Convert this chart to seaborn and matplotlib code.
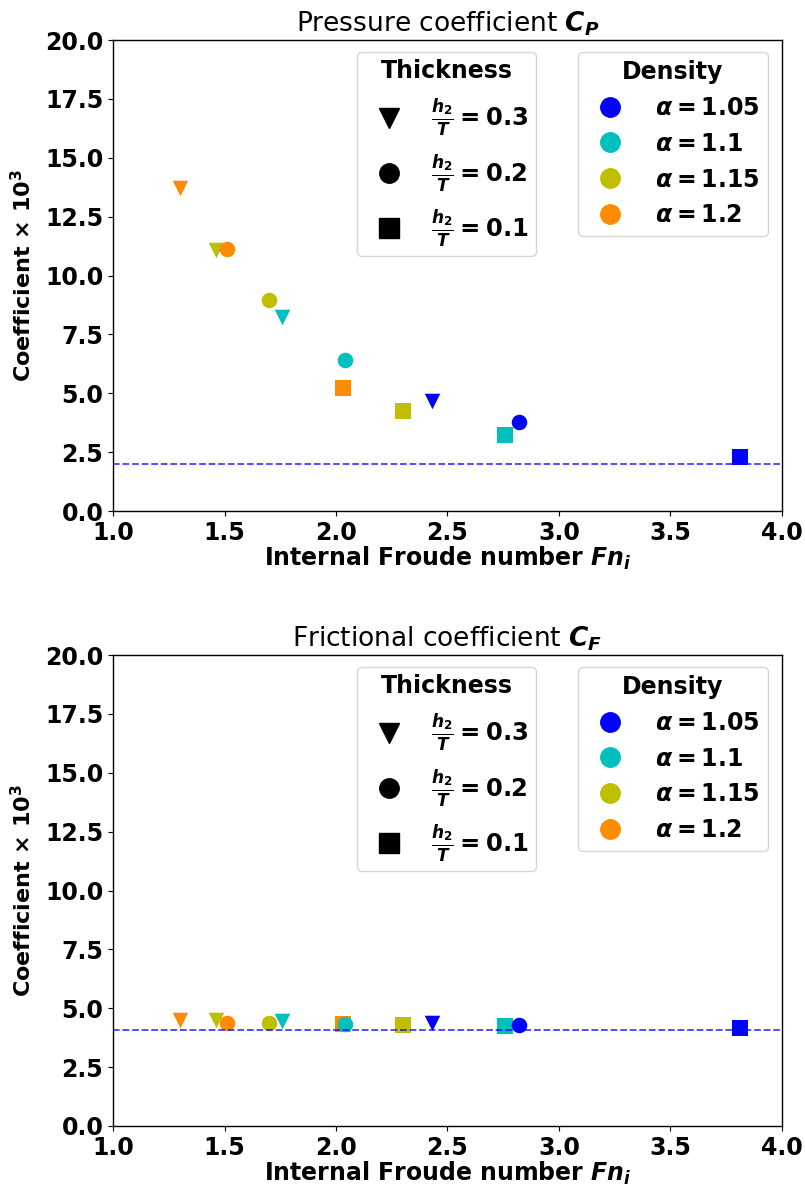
import numpy as np
import pandas as pd
import matplotlib
matplotlib.use("Agg")
import matplotlib.pyplot as plt
from matplotlib.lines import Line2D
import seaborn as sns

# ---- data ----
densities = ["1.05", "1.1", "1.15", "1.2"]
thicknesses = ["0.3", "0.2", "0.1"]
density_colors = ["#0000ff", "#00bfbf", "#bfbf00", "#ff8c00"]
thickness_markers = ["v", "o", "s"]

point_density = ["1.05", "1.05", "1.05", "1.1", "1.1", "1.1",
                 "1.15", "1.15", "1.15", "1.2", "1.2", "1.2"]
point_thickness = ["0.3", "0.2", "0.1"] * 4
froude = [2.43, 2.82, 3.81, 1.76, 2.04, 2.76, 1.46, 1.70, 2.30, 1.30, 1.51, 2.03]
cp = [4.66, 3.77, 2.29, 8.22, 6.40, 3.22, 11.10, 8.98, 4.24, 13.73, 11.14, 5.21]
cf = [4.39, 4.27, 4.15, 4.45, 4.34, 4.24, 4.48, 4.37, 4.27, 4.48, 4.36, 4.34]
cp_ref = 2.0
cf_ref = 4.08

xticks = [1.0, 1.5, 2.0, 2.5, 3.0, 3.5, 4.0]
yticks = [0.0, 2.5, 5.0, 7.5, 10.0, 12.5, 15.0, 17.5, 20.0]

df = pd.DataFrame({"Fn": froude, "Cp": cp, "Cf": cf,
                   "Density": point_density, "Thickness": point_thickness})
df = df.sort_values("Fn").reset_index(drop=True)

sns.set_style("ticks")
plt.rcParams.update({"text.color": "black", "axes.labelcolor": "black",
                     "xtick.color": "black", "ytick.color": "black",
                     "axes.edgecolor": "black",
                     "mathtext.fontset": "custom",
                     "mathtext.it": "DejaVu Sans:italic:bold",
                     "mathtext.rm": "DejaVu Sans:bold",
                     "mathtext.bf": "DejaVu Sans:bold",
                     "mathtext.sf": "DejaVu Sans:bold"})

fig = plt.figure(figsize=(8.05, 11.86), dpi=100)
ax1 = fig.add_axes([0.1404, 0.5691, 0.831, 0.3971])
ax2 = fig.add_axes([0.1404, 0.0506, 0.831, 0.3971])

palette = dict(zip(densities, density_colors))
markers = dict(zip(thicknesses, thickness_markers))

def draw(ax, col, ref, title):
    for _, row in df.iterrows():
        sns.scatterplot(x=[row["Fn"]], y=[row[col]], ax=ax,
                        color=palette[row["Density"]],
                        marker=markers[row["Thickness"]],
                        s=125, linewidth=0, legend=False)
    ax.axhline(ref, color="#0000ff", ls="--", lw=1.3, alpha=0.75, zorder=1)
    ax.set_xlim(1.0, 4.0)
    ax.set_ylim(0.0, 20.0)
    ax.set_xticks(xticks)
    ax.set_yticks(yticks)
    ax.set_xticklabels([f"{t:.1f}" for t in xticks], fontsize=17, fontweight="bold")
    ax.set_yticklabels([f"{t:.1f}" for t in yticks], fontsize=17, fontweight="bold")
    ax.set_xlabel(r"Internal Froude number $Fn_i$", fontsize=17,
                  fontweight="bold", labelpad=0)
    ax.set_ylabel("Coefficient \u00d7 $10^3$", fontsize=16,
                  fontweight="bold", labelpad=7)
    ax.set_title(title, fontsize=19, pad=6)
    for sp in ax.spines.values():
        sp.set_linewidth(1.0)

    th_handles = [Line2D([], [], ls="", marker=m, color="black", markersize=14)
                  for m in thickness_markers]
    th_labels = [r"$\frac{h_2}{T}=%s$" % t for t in thicknesses]
    leg1 = ax.legend(th_handles, th_labels, title="Thickness", loc="upper left",
                     bbox_to_anchor=(0.3647, 0.975), fontsize=17.5,
                     title_fontproperties={"weight": "bold", "size": 17},
                     labelspacing=0.55, handletextpad=0.75, borderpad=0.3,
                     borderaxespad=0, frameon=True)
    ax.add_artist(leg1)
    de_handles = [Line2D([], [], ls="", marker="o", color=c, markersize=14)
                  for c in density_colors]
    de_labels = [r"$\alpha=%s$" % d for d in densities]
    ax.legend(de_handles, de_labels, title="Density", loc="upper left",
              bbox_to_anchor=(0.695, 0.975), fontsize=17,
              title_fontproperties={"weight": "bold", "size": 17},
              labelspacing=0.5, handletextpad=0.9, borderpad=0.35,
              borderaxespad=0, frameon=True)

draw(ax1, "Cp", cp_ref, r"Pressure coefficient $C_P$")
draw(ax2, "Cf", cf_ref, r"Frictional coefficient $C_F$")

fig.savefig("out.png", dpi=100)
